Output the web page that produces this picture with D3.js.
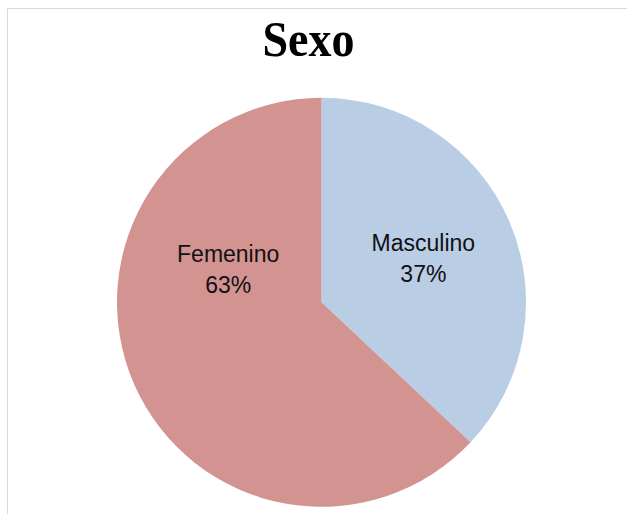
<!DOCTYPE html>
<html>
<head>
<meta charset="utf-8">
<script src="https://cdn.jsdelivr.net/npm/d3@7"></script>
<style>
  html, body { margin: 0; padding: 0; background: #fff; }
  svg { display: block; }
</style>
</head>
<body>
<svg id="chart" width="627" height="514"></svg>
<script>
// ---- data ----
const categories = ["Masculino", "Femenino"];
const values = [37, 63];
const percentLabels = ["37%", "63%"];
const colors = ["#b9cde5", "#d39391"];
const title = "Sexo";

// ---- layout ----
const W = 627, H = 514;
const cx = 321.5, cy = 302.3, R = 204.5;
const labelRadius = [111, 99];
// Femenino label was moved by hand in the original (upper-left of its slice)
const labelAngleOverride = [null, 289.5 * Math.PI / 180];

const svg = d3.select("#chart");

// frame (top and left edges visible)
svg.append("line").attr("x1", 7.5).attr("x2", W).attr("y1", 8.5).attr("y2", 8.5)
  .attr("stroke", "#d9d9d9").attr("stroke-width", 1);
svg.append("line").attr("x1", 7.5).attr("x2", 7.5).attr("y1", 8.5).attr("y2", H)
  .attr("stroke", "#d9d9d9").attr("stroke-width", 1);

// title (slightly condensed/tall serif as in the original)
svg.append("text")
  .attr("transform", "translate(308.5,56) scale(1,1.1)")
  .attr("text-anchor", "middle")
  .style("font-family", "'Liberation Serif', 'Times New Roman', serif")
  .style("font-weight", "bold")
  .style("font-size", "46px")
  .attr("fill", "#000")
  .text(title);

const data = categories.map((c, i) => ({ cat: c, value: values[i], pct: percentLabels[i], color: colors[i], i }));

const pie = d3.pie().value(d => d.value).sort(null).startAngle(0).endAngle(2 * Math.PI);
const arcs = pie(data);
const arc = d3.arc().innerRadius(0).outerRadius(R);

const g = svg.append("g").attr("transform", `translate(${cx},${cy})`);

g.selectAll("path.slice")
  .data(arcs)
  .enter().append("path")
  .attr("class", "slice")
  .attr("d", arc)
  .attr("fill", d => d.data.color);

const lineGap = 30.5;
const labels = g.selectAll("text.lbl")
  .data(arcs)
  .enter().append("text")
  .attr("class", "lbl")
  .attr("text-anchor", "middle")
  .style("font-family", "'Liberation Sans', Arial, sans-serif")
  .style("font-size", "23px")
  .attr("fill", "#111")
  .attr("transform", d => {
    const i = d.data.i;
    const a = labelAngleOverride[i] != null ? labelAngleOverride[i] : (d.startAngle + d.endAngle) / 2;
    const r = labelRadius[i];
    const x = r * Math.sin(a), y = -r * Math.cos(a);
    return `translate(${x},${y})`;
  });

labels.append("tspan").attr("x", 0).attr("y", -7).text(d => d.data.cat);
labels.append("tspan").attr("x", 0).attr("y", -7 + lineGap).text(d => d.data.pct);
</script>
</body>
</html>
